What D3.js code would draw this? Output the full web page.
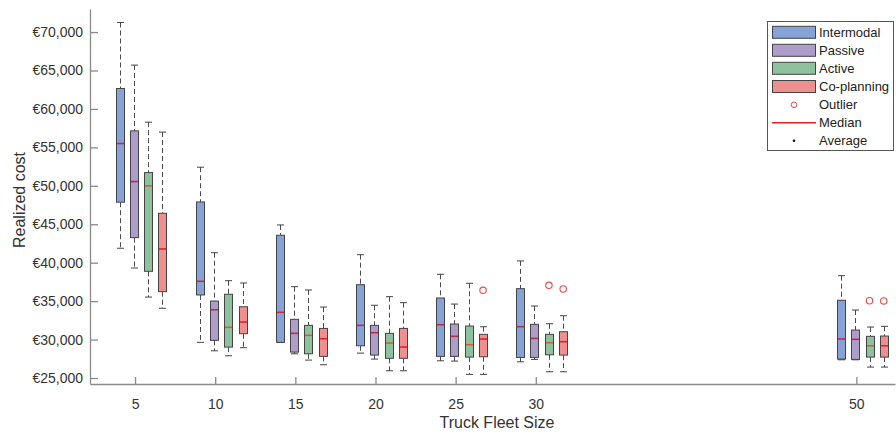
<!DOCTYPE html>
<html lang="en">
  <head>
    <meta charset="UTF-8" />
    <title>Realized cost by truck fleet size</title>
    <script src="https://d3js.org/d3.v7.min.js"></script>
    <style>
      body { margin: 0; background: #fff; }
      svg { font-family: "Liberation Sans", Arial, sans-serif; }
    </style>
  </head>
  <body>
    <svg id="canvas"></svg>
  <script>
    // fleet sizes on the x axis
    let fleetSizes = [5, 10, 15, 20, 25, 30, 50];
    let seriesNames = ["Intermodal", "Passive", "Active", "Co-planning"];

    // per fleet size: [lower whisker, q1, median, q3, upper whisker]
    let intermodal = [
      [41880, 47870, 55500, 62660, 71250],
      [29640, 35800, 37580, 47900, 52420],
      [29640, 29640, 33540, 43570, 44910],
      [28240, 29190, 31850, 37140, 41040],
      [27240, 27810, 31930, 35410, 38490],
      [27110, 27680, 31670, 36620, 40230],
      [27370, 27460, 30070, 35110, 38310]
    ];
    let passive = [
      [39310, 43260, 50550, 57150, 65700],
      [28540, 29900, 33880, 35010, 41300],
      [28150, 28370, 30810, 32630, 36880],
      [27460, 27980, 30890, 31850, 34460],
      [27200, 27810, 30420, 32020, 34620],
      [27420, 27680, 30150, 31980, 34360],
      [27370, 27420, 30030, 31240, 33840]
    ];
    let active = [
      [35530, 38880, 49990, 51720, 58280],
      [27890, 29020, 31590, 35890, 37660],
      [27330, 28150, 30550, 31850, 36450],
      [25940, 27560, 29550, 30810, 35580],
      [25470, 27720, 29330, 31760, 37320],
      [25810, 28020, 29590, 30680, 32060],
      [26420, 27720, 29190, 30420, 31630]
    ];
    let coPlanning = [
      [34070, 36230, 41790, 46430, 56980],
      [28940, 30760, 32280, 34270, 37360],
      [26720, 27810, 30110, 31450, 34230],
      [25940, 27560, 29030, 31450, 34800],
      [25470, 27760, 30070, 30680, 31670],
      [25810, 27980, 29720, 31020, 33100],
      [26420, 27720, 29190, 30460, 31720]
    ];
    // outliers: [fleet size, series index, value]
    let outliers = [
      [25, 3, 36410],
      [30, 2, 37060],
      [30, 3, 36580],
      [50, 2, 35050],
      [50, 3, 35020]
    ];
    let yTicks = [25000, 30000, 35000, 40000, 45000, 50000, 55000, 60000, 65000, 70000];

    let allSeries = [intermodal, passive, active, coPlanning];
    let fills = ["#86a2d6", "#ae9dcb", "#8ec29f", "#ee9090"];
    let medianColors = ["#c42a4c", "#c8264e", "#c4682e", "#e4202c"];
    // box centres relative to the tick, in fleet-size units
    let offsets = [-0.96, -0.08, 0.82, 1.71];

    let width = 896;
    let height = 434;
    let svg = d3.select("svg").attr("width", width).attr("height", height);

    let xScale = d3.scaleLinear().domain([2.19, 52.41]).range([90, 895]);
    let yScale = d3.scaleLinear().domain([24220, 73000]).range([384, 9]);

    let boxW = 8;
    let capW = 7;

    // axes (ticks point inwards)
    let xAxis = d3.axisBottom(xScale).tickValues(fleetSizes).tickSizeInner(-7).tickSizeOuter(0).tickPadding(15);
    let yAxis = d3.axisLeft(yScale).tickValues(yTicks).tickSizeInner(-8).tickSizeOuter(0).tickPadding(7)
      .tickFormat((d) => "€" + d3.format(",")(d));

    let gx = svg.append("g").attr("transform", "translate(0,384)").call(xAxis);
    let gy = svg.append("g").attr("transform", "translate(90,0)").call(yAxis);
    [gx, gy].forEach((g) => {
      g.selectAll("path, line").attr("stroke", "#8a8a8a").attr("stroke-width", 1.3);
      g.selectAll("text").attr("fill", "#333").style("font-size", "14px");
    });

    svg.append("text").attr("x", 497).attr("y", 428).attr("text-anchor", "middle")
      .attr("fill", "#333").style("font-size", "16px").text("Truck Fleet Size");
    svg.append("text").attr("transform", "translate(25,200) rotate(-90)").attr("text-anchor", "middle")
      .attr("fill", "#333").style("font-size", "16px").text("Realized cost");

    // boxes
    allSeries.forEach((series, s) => {
      let g = svg.append("g");
      series.forEach((d, i) => {
        let cx = Math.round(xScale(fleetSizes[i] + offsets[s])) + 0.5;
        let [lo, q1, med, q3, hi] = d;
        // whiskers
        g.append("line").attr("x1", cx).attr("x2", cx).attr("y1", yScale(hi)).attr("y2", yScale(q3))
          .attr("stroke", "#4a4a4a").attr("stroke-dasharray", "5,3");
        g.append("line").attr("x1", cx).attr("x2", cx).attr("y1", yScale(q1)).attr("y2", yScale(lo))
          .attr("stroke", "#4a4a4a").attr("stroke-dasharray", "5,3");
        [lo, hi].forEach((v) => {
          g.append("line").attr("x1", cx - capW / 2).attr("x2", cx + capW / 2)
            .attr("y1", yScale(v)).attr("y2", yScale(v)).attr("stroke", "#444");
        });
        g.append("rect").attr("x", cx - boxW / 2).attr("width", boxW)
          .attr("y", yScale(q3)).attr("height", yScale(q1) - yScale(q3))
          .attr("fill", fills[s]).attr("stroke", "#444").attr("stroke-width", 1);
        g.append("line").attr("x1", cx - boxW / 2 + 0.5).attr("x2", cx + boxW / 2 - 0.5)
          .attr("y1", yScale(med)).attr("y2", yScale(med))
          .attr("stroke", medianColors[s]).attr("stroke-width", 1.6);
      });
    });

    svg.selectAll(".outlier").data(outliers).enter().append("circle")
      .attr("class", "outlier")
      .attr("cx", (d) => xScale(d[0] + offsets[d[1]]))
      .attr("cy", (d) => yScale(d[2]))
      .attr("r", 3.2).attr("fill", "none").attr("stroke", "#f04848").attr("stroke-width", 1.1);

    // legend
    let legend = svg.append("g");
    legend.append("rect").attr("x", 767.5).attr("y", 21.5).attr("width", 126).attr("height", 129)
      .attr("fill", "#fff").attr("stroke", "#555");
    let rowY = [32.3, 50.3, 68.3, 86.5, 104.8, 122.7, 140.7];
    seriesNames.forEach((name, i) => {
      legend.append("rect").attr("x", 772.5).attr("y", rowY[i] - 6).attr("width", 43).attr("height", 12)
        .attr("fill", fills[i]).attr("stroke", "#444");
    });
    legend.append("circle").attr("cx", 794).attr("cy", rowY[4]).attr("r", 2.8)
      .attr("fill", "none").attr("stroke", "#f04848");
    legend.append("line").attr("x1", 772).attr("x2", 816).attr("y1", rowY[5]).attr("y2", rowY[5])
      .attr("stroke", "#f02020").attr("stroke-width", 1.5);
    legend.append("circle").attr("cx", 794).attr("cy", rowY[6]).attr("r", 1.3).attr("fill", "#111");
    seriesNames.concat(["Outlier", "Median", "Average"]).forEach((t, i) => {
      legend.append("text").attr("x", 819).attr("y", rowY[i] + 4.5).attr("fill", "#222")
        .style("font-size", "13px").text(t);
    });
  </script>
  </body>
</html>
